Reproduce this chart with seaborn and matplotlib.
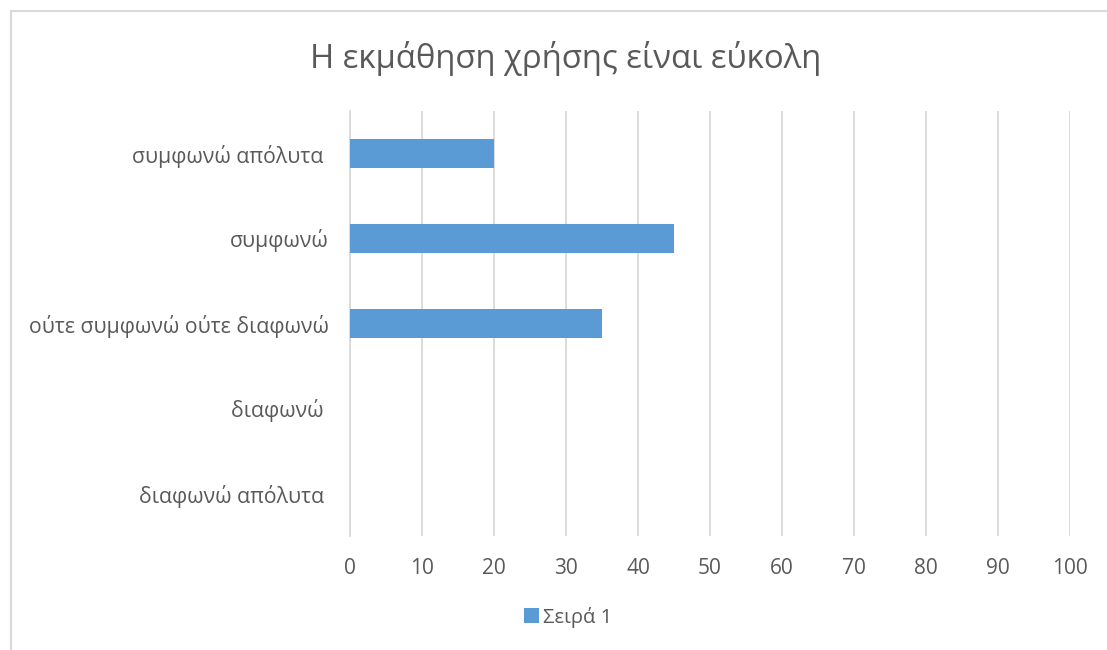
import matplotlib
matplotlib.use("Agg")
import matplotlib.pyplot as plt
from matplotlib.patches import Rectangle, Patch
import seaborn as sns
import pandas as pd

title = "Η εκμάθηση χρήσης είναι εύκολη"
categories = ["συμφωνώ απόλυτα ", "συμφωνώ", "ούτε συμφωνώ ούτε διαφωνώ", "διαφωνώ ", "διαφωνώ απόλυτα "]
values = [20, 45, 35, 0, 0]
series_name = "Σειρά 1"
x_ticks = [0, 10, 20, 30, 40, 50, 60, 70, 80, 90, 100]

sns.set_theme(style="white")
plt.rcParams["font.family"] = ["Open Sans", "DejaVu Sans"]

BAR = "#5B9BD5"
TEXT = "#595959"
GRID = "#D9D9D9"

W, H = 1107, 650
fig = plt.figure(figsize=(W / 100, H / 100), dpi=100)

# outer chart frame
fig.patches.append(Rectangle((11 / W, -0.1), 1.2, (H - 11) / H + 0.1,
                             transform=fig.transFigure, fill=False,
                             edgecolor=GRID, linewidth=1.5, zorder=0))

ax = fig.add_axes([350 / W, (H - 536) / H, 720 / W, 425 / H])
df = pd.DataFrame({"category": categories, "value": values})
sns.barplot(data=df, x="value", y="category", orient="h", color=BAR,
            width=0.35, saturation=1, linewidth=0, ax=ax, zorder=3)

ax.set_xlim(0, 100)
ax.set_ylim(len(categories) - 0.5, -0.5)
ax.set_xticks(x_ticks)
ax.set_xticklabels([str(t) for t in x_ticks])
ax.xaxis.grid(True, color=GRID, linewidth=1.3, zorder=0)
ax.yaxis.grid(False)
for s in ["top", "right", "bottom"]:
    ax.spines[s].set_visible(False)
ax.spines["left"].set_color(GRID)
ax.spines["left"].set_linewidth(1.3)
ax.tick_params(axis="x", length=0, pad=16, labelsize=15, labelcolor=TEXT)
ax.tick_params(axis="y", length=0, pad=15, labelsize=15.3, labelcolor=TEXT)
ax.set_xlabel("")
ax.set_ylabel("")

fig.text(566 / W, 1 - 58 / H, title, ha="center", va="center",
         fontsize=23.7, color=TEXT)

fig.legend(handles=[Patch(facecolor=BAR, edgecolor="none", label=series_name)],
           loc="center", bbox_to_anchor=(568 / W, 1 - 617 / H), frameon=False,
           fontsize=14.5, labelcolor=TEXT, handlelength=0.75, handleheight=0.75,
           handletextpad=0.2)

fig.savefig("out.png", dpi=100, facecolor="white")
